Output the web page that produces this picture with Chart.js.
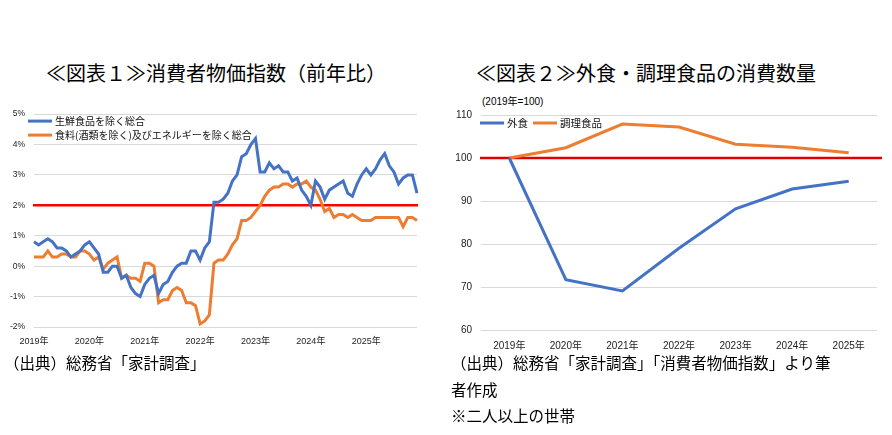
<!DOCTYPE html>
<html lang="ja">
<head>
    <meta charset="UTF-8">
    <title>消費者物価指数・外食と調理食品の消費数量</title>
    <style>
        body {
            margin: 0;
            padding: 0;
            background-color: #ffffff;
            font-family: "Noto Sans CJK JP", sans-serif;
            color: #000;
        }

        .page {
            position: relative;
            width: 892px;
            height: 435px;
            overflow: hidden;
        }

        .title {
            position: absolute;
            top: 61px;
            font-size: 20px;
            line-height: 24px;
            white-space: nowrap;
        }

        .note {
            position: absolute;
            top: 349px;
            font-size: 15.5px;
            line-height: 26.5px;
            white-space: nowrap;
        }

        .unit {
            position: absolute;
            left: 482px;
            top: 93px;
            font-size: 10px;
            font-family: "Liberation Sans", "Noto Sans CJK JP", sans-serif;
        }

        .chart-box {
            position: absolute;
            top: 100px;
        }
    </style>
</head>
<body>
    <div class="page">
        <div class="title" style="left: 46px;">≪図表１≫消費者物価指数（前年比）</div>
        <div class="title" style="left: 476px;">≪図表２≫外食・調理食品の消費数量</div>

        <div class="chart-box" style="left: 0; width: 426px; height: 257px;">
            <canvas id="cpiChart"></canvas>
        </div>

        <div class="unit">(2019年=100)</div>
        <div class="chart-box" style="left: 440px; width: 447px; height: 260px;">
            <canvas id="foodChart"></canvas>
        </div>

        <div class="note" style="left: 4px;">（出典）総務省「家計調査」</div>
        <div class="note" style="left: 451px;">（出典）総務省「家計調査」「消費者物価指数」より筆<br>者作成<br>※二人以上の世帯</div>
    </div>

    <script src="https://cdn.jsdelivr.net/npm/chart.js"></script>
    <script>
        // 図表1: monthly y/y %, Jan 2019 - Dec 2025
        const cpiYears = ['2019年', '2020年', '2021年', '2022年', '2023年', '2024年', '2025年'];

        const coreCpi = [
            0.8, 0.7, 0.8, 0.9, 0.8, 0.6, 0.6, 0.5, 0.3, 0.4, 0.5, 0.7,
            0.8, 0.6, 0.4, -0.2, -0.2, 0.0, 0.0, -0.4, -0.3, -0.7, -0.9, -1.0,
            -0.6, -0.4, -0.3, -0.9, -0.6, -0.5, -0.2, 0.0, 0.1, 0.1, 0.5, 0.5,
            0.2, 0.6, 0.8, 2.1, 2.1, 2.2, 2.4, 2.8, 3.0, 3.6, 3.7, 4.0,
            4.2, 3.1, 3.1, 3.4, 3.2, 3.3, 3.1, 3.1, 2.8, 2.9, 2.5, 2.3,
            2.0, 2.8, 2.6, 2.2, 2.5, 2.6, 2.7, 2.8, 2.4, 2.3, 2.7, 3.0,
            3.2, 3.0, 3.2, 3.5, 3.7, 3.3, 3.1, 2.7, 2.9, 3.0, 3.0, 2.4
        ];

        const coreCoreCpi = [
            0.3, 0.3, 0.3, 0.5, 0.3, 0.3, 0.4, 0.4, 0.3, 0.3, 0.5, 0.5,
            0.4, 0.2, 0.3, -0.1, 0.1, 0.2, 0.3, -0.4, -0.3, -0.4, -0.4, -0.5,
            0.1, 0.1, 0.0, -1.2, -1.1, -1.1, -0.8, -0.7, -0.8, -1.2, -1.2, -1.3,
            -1.9, -1.8, -1.6, 0.1, 0.2, 0.2, 0.4, 0.7, 0.9, 1.5, 1.5, 1.6,
            1.8, 2.0, 2.3, 2.5, 2.6, 2.6, 2.7, 2.7, 2.6, 2.7, 2.7, 2.8,
            2.6, 2.5, 2.2, 1.8, 1.9, 1.6, 1.7, 1.7, 1.6, 1.7, 1.6, 1.5,
            1.5, 1.5, 1.6, 1.6, 1.6, 1.6, 1.6, 1.6, 1.3, 1.6, 1.6, 1.5
        ];

        const cpiTarget = 2;

        // 図表2: index, 2019 = 100
        const foodYears = ['2019年', '2020年', '2021年', '2022年', '2023年', '2024年', '2025年'];
        const eatingOut = [100, 71.7, 69.1, 79.0, 88.2, 92.8, 94.6];
        const preparedFood = [100, 102.4, 107.9, 107.2, 103.2, 102.5, 101.2];
        const foodBase = 100;

        const BLUE = '#4472c4';
        const ORANGE = '#ed7d31';
        const TICK_FONT = '"Liberation Sans", "Noto Sans CJK JP", sans-serif';

        // one label per month, only January shows the year
        const cpiLabels = [];
        cpiYears.forEach(function (y) {
            for (let m = 1; m <= 12; m++) {
                cpiLabels.push(y + m + '月');
            }
        });

        // red reference line at a given value
        const refLine = {
            id: 'refLine',
            beforeDatasetsDraw(chart, args, opts) {
                const a = chart.chartArea;
                const y = chart.scales.y.getPixelForValue(opts.value);
                const ctx = chart.ctx;
                ctx.save();
                ctx.strokeStyle = opts.color;
                ctx.lineWidth = 2.5;
                ctx.beginPath();
                ctx.moveTo(a.left - 1, y);
                ctx.lineTo(a.right + (opts.extra || 0), y);
                ctx.stroke();
                ctx.restore();
            }
        };

        // legend drawn inside the plot area
        const innerLegend = {
            id: 'innerLegend',
            afterDatasetsDraw(chart, args, opts) {
                const a = chart.chartArea;
                const ctx = chart.ctx;
                let x = a.left + opts.x;
                let y = a.top + opts.y;
                ctx.save();
                ctx.font = opts.size + 'px "Noto Sans CJK JP", sans-serif';
                ctx.textBaseline = 'middle';
                chart.data.datasets.forEach(function (ds) {
                    ctx.strokeStyle = ds.borderColor;
                    ctx.lineWidth = 3;
                    ctx.beginPath();
                    ctx.moveTo(x, y);
                    ctx.lineTo(x + 24, y);
                    ctx.stroke();
                    ctx.fillStyle = '#111';
                    ctx.fillText(ds.label, x + 27, y);
                    if (opts.vertical) {
                        y += opts.gap;
                    } else {
                        x += 27 + ctx.measureText(ds.label).width + opts.gap;
                    }
                });
                ctx.restore();
            }
        };

        const cpiConfig = {
            type: 'line',
            data: {
                labels: cpiLabels,
                datasets: [{
                    label: '生鮮食品を除く総合',
                    data: coreCpi,
                    borderColor: BLUE,
                    borderWidth: 3,
                    pointRadius: 0,
                    tension: 0
                }, {
                    label: '食料(酒類を除く)及びエネルギーを除く総合',
                    data: coreCoreCpi,
                    borderColor: ORANGE,
                    borderWidth: 3,
                    pointRadius: 0,
                    tension: 0
                }]
            },
            options: {
                responsive: true,
                maintainAspectRatio: false,
                animation: false,
                layout: { padding: { top: 10, right: 9, left: 0, bottom: 0 } },
                plugins: {
                    legend: { display: false },
                    tooltip: { enabled: false },
                    refLine: { value: cpiTarget, color: '#ff0000', extra: 1 },
                    innerLegend: { x: -6, y: 7, gap: 14, size: 10, vertical: true }
                },
                scales: {
                    x: {
                        offset: false,
                        grid: { display: false },
                        border: { display: false },
                        ticks: {
                            autoSkip: false,
                            maxRotation: 0,
                            padding: 1,
                            color: '#222',
                            font: { family: TICK_FONT, size: 9 },
                            callback: function (v, i) {
                                return i % 12 === 0 ? cpiYears[i / 12] : '';
                            }
                        },
                        afterFit: function (s) { s.height = 30; }
                    },
                    y: {
                        min: -2,
                        max: 5,
                        grid: { color: '#d9d9d9', drawTicks: false },
                        border: { display: false },
                        ticks: {
                            stepSize: 1,
                            padding: 9,
                            color: '#222',
                            font: { family: TICK_FONT, size: 8.5 },
                            callback: function (v) { return v + '%'; }
                        },
                        afterFit: function (s) { s.width = 34; }
                    }
                }
            },
            plugins: [refLine, innerLegend]
        };

        const foodConfig = {
            type: 'line',
            data: {
                labels: foodYears,
                datasets: [{
                    label: '外食',
                    data: eatingOut,
                    borderColor: BLUE,
                    borderWidth: 3,
                    pointRadius: 0,
                    tension: 0
                }, {
                    label: '調理食品',
                    data: preparedFood,
                    borderColor: ORANGE,
                    borderWidth: 3,
                    pointRadius: 0,
                    tension: 0
                }]
            },
            options: {
                responsive: true,
                maintainAspectRatio: false,
                animation: false,
                layout: { padding: { top: 10, right: 10, left: 0, bottom: 0 } },
                plugins: {
                    legend: { display: false },
                    tooltip: { enabled: false },
                    refLine: { value: foodBase, color: '#e00000', extra: 5 },
                    innerLegend: { x: -1, y: 8, gap: 5, size: 10.5, vertical: false }
                },
                scales: {
                    x: {
                        offset: true,
                        grid: { display: false },
                        border: { display: false },
                        ticks: {
                            maxRotation: 0,
                            padding: 2,
                            color: '#222',
                            font: { family: TICK_FONT, size: 10 }
                        },
                        afterFit: function (s) { s.height = 30; }
                    },
                    y: {
                        min: 60,
                        max: 110,
                        grid: { color: '#d9d9d9', drawTicks: false },
                        border: { display: false },
                        ticks: {
                            stepSize: 10,
                            padding: 9,
                            color: '#222',
                            font: { family: TICK_FONT, size: 10 }
                        },
                        afterFit: function (s) { s.width = 41; }
                    }
                }
            },
            plugins: [refLine, innerLegend]
        };

        window.onload = function () {
            new Chart(document.getElementById('cpiChart').getContext('2d'), cpiConfig);
            new Chart(document.getElementById('foodChart').getContext('2d'), foodConfig);
        };
    </script>
</body>
</html>
